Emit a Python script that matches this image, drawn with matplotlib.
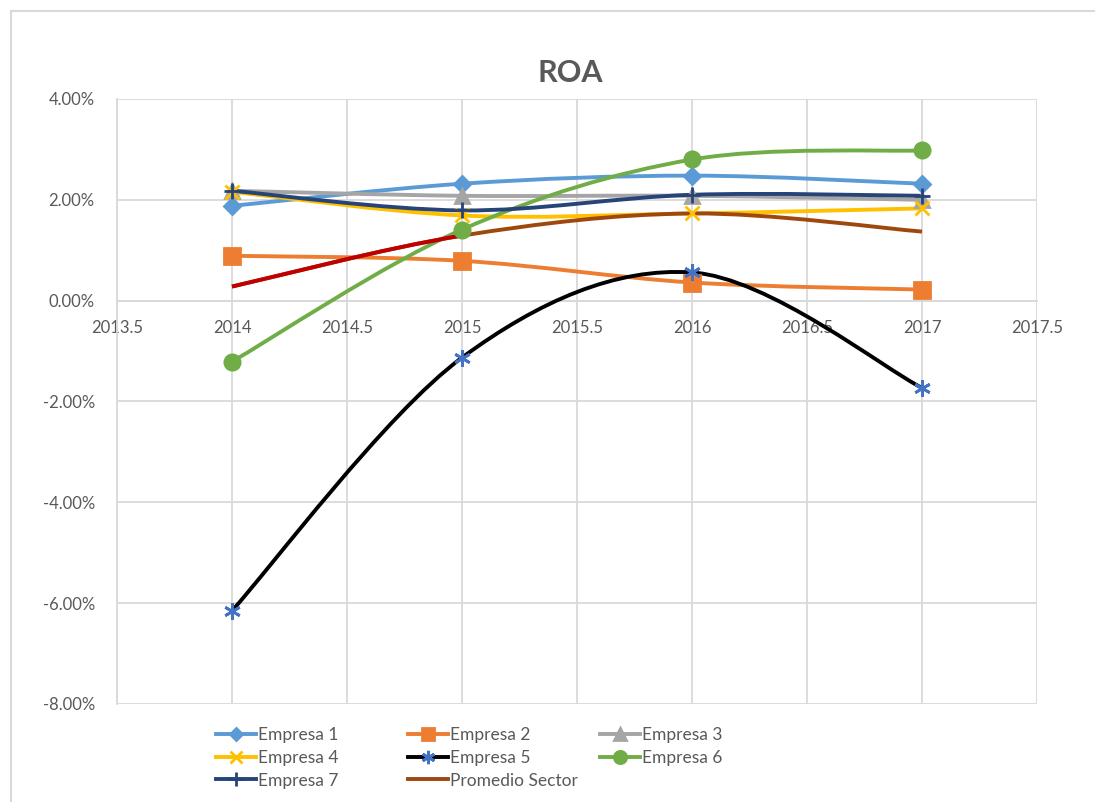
import numpy as np
import matplotlib.pyplot as plt
from matplotlib.path import Path
from matplotlib.patches import PathPatch, Rectangle
from matplotlib.lines import Line2D
from matplotlib.ticker import FuncFormatter, MultipleLocator

plt.rcParams['font.family'] = ['Lato', 'DejaVu Sans']

years = [2014, 2015, 2016, 2017]
empresa1 = [0.0188, 0.0232, 0.0248, 0.0232]
empresa2 = [0.0089, 0.0079, 0.0036, 0.0022]
empresa3 = [0.0218, 0.0208, 0.0208, 0.0200]
empresa4 = [0.0216, 0.0169, 0.0173, 0.0183]
empresa5 = [-0.0615, -0.0113, 0.0056, -0.0173]
empresa6 = [-0.0121, 0.0141, 0.0280, 0.0298]
empresa7 = [0.0218, 0.0179, 0.0210, 0.0208]
promedio = [0.0028, 0.0129, 0.0173, 0.0137]


def smooth_path(x, y):
    # bezier segments similar to excel's smoothed line
    p = np.column_stack([x, y]).astype(float)
    p = np.vstack([p[0], p, p[-1]])
    verts = [p[1]]
    codes = [Path.MOVETO]
    for i in range(1, len(p) - 2):
        c1 = p[i] + (p[i + 1] - p[i - 1]) / 6
        c2 = p[i + 1] - (p[i + 2] - p[i]) / 6
        verts += [c1, c2, p[i + 1]]
        codes += [Path.CURVE4] * 3
    return Path(verts, codes)


fig = plt.figure(figsize=(10.95, 8.02), dpi=100)
ax = fig.add_axes([117 / 1095, 1 - 704 / 802, 920 / 1095, 605 / 802])

# chart border
fig.patches.append(Rectangle((11 / 1095, -0.1), 1.2, (791 + 80) / 802,
                             transform=fig.transFigure, fill=False,
                             edgecolor='#d9d9d9', lw=1.5))

series = [
    ('Empresa 1', empresa1, '#5b9bd5', 'D', 8, '#5b9bd5'),
    ('Empresa 2', empresa2, '#ed7d31', 's', 11, '#ed7d31'),
    ('Empresa 3', empresa3, '#a5a5a5', '^', 10, '#a5a5a5'),
    ('Empresa 4', empresa4, '#ffc000', 'x', 10, '#ffc000'),
    ('Empresa 5', empresa5, '#000000', (6, 2, 0), 12, '#4472c4'),
    ('Empresa 6', empresa6, '#70ad47', 'o', 11, '#70ad47'),
    ('Empresa 7', empresa7, '#264478', '+', 12, '#264478'),
]

handles = []
for name, vals, col, mk, ms, mcol in series:
    ax.add_patch(PathPatch(smooth_path(years, vals), fill=False, edgecolor=col,
                           lw=2.8, zorder=3, capstyle='butt'))
    ax.plot(years, vals, ls='none', marker=mk, ms=ms, color=mcol,
            mec=mcol, mew=2, zorder=4)
    handles.append(Line2D([], [], color=col, lw=2.8, marker=mk, ms=ms * 0.8,
                          mfc=mcol, mec=mcol, mew=2))

# promedio sector, first segment drawn red
pp = smooth_path(years, promedio)
ax.add_patch(PathPatch(pp, fill=False, edgecolor='#9e480e', lw=2.8, zorder=3,
                       capstyle='butt'))
first = Path(pp.vertices[:4], pp.codes[:4])
ax.add_patch(PathPatch(first, fill=False, edgecolor='#c00000', lw=2.8, zorder=3,
                       capstyle='butt'))
handles.append(Line2D([], [], color='#9e480e', lw=2.8))

ax.set_xlim(2013.5, 2017.5)
ax.set_ylim(-0.08, 0.04)
ax.xaxis.set_major_locator(MultipleLocator(0.5))
ax.yaxis.set_major_locator(MultipleLocator(0.02))
ax.xaxis.set_major_formatter(FuncFormatter(lambda v, p: f'{v:g}'))
ax.yaxis.set_major_formatter(FuncFormatter(lambda v, p: f'{v * 100:.2f}%'))
ax.grid(True, color='#d9d9d9', lw=1.3)
ax.set_axisbelow(True)
for s in ['top', 'right']:
    ax.spines[s].set_visible(False)
ax.spines['left'].set_color('#d9d9d9')
ax.spines['left'].set_linewidth(1.3)
ax.spines['bottom'].set_position(('data', 0))
ax.spines['bottom'].set_color('#d9d9d9')
ax.spines['bottom'].set_linewidth(1.3)
ax.tick_params(length=0, labelsize=12, labelcolor='#595959')
ax.tick_params(axis='y', pad=16)
ax.tick_params(axis='x', pad=14)

fig.text(570 / 1095, 1 - 73 / 802, 'ROA', ha='center', va='center',
         fontsize=22, fontweight='bold', color='#595959')

names = [s[0] for s in series] + ['Promedio Sector']
# legend laid out row by row, three columns
for c, x0 in enumerate([207, 399, 591]):
    idx = list(range(c, len(names), 3))
    fig.legend([handles[i] for i in idx], [names[i] for i in idx],
               loc='upper left', bbox_to_anchor=(x0 / 1095, 1 - 718 / 802),
               frameon=False, fontsize=12.5, labelcolor='#595959',
               handlelength=2.3, handletextpad=0.15, labelspacing=0.4,
               borderpad=0)

fig.savefig('out.png', dpi=100)
